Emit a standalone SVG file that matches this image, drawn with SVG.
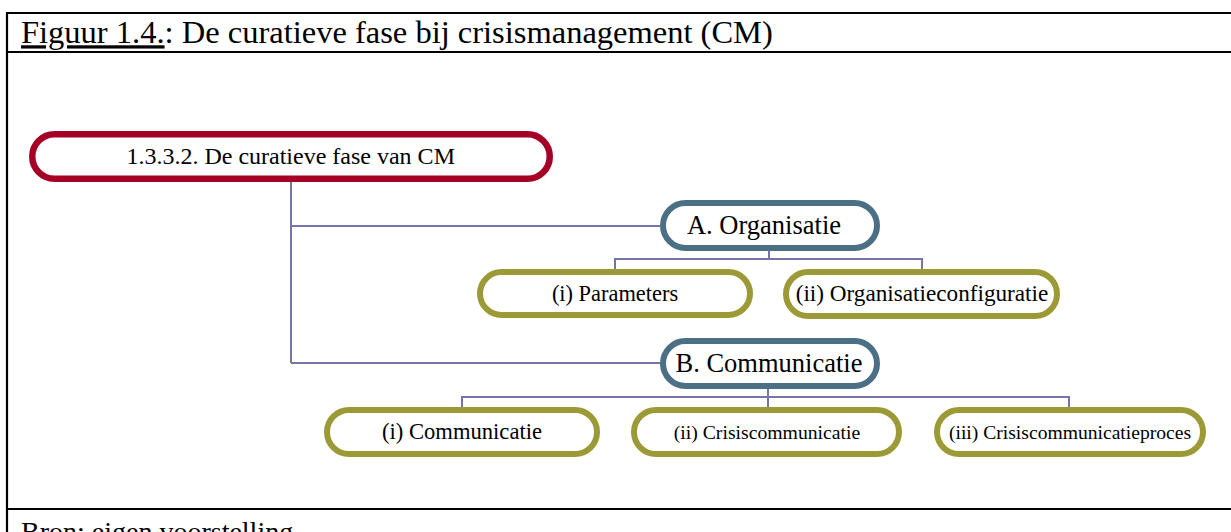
<svg xmlns="http://www.w3.org/2000/svg" width="1231" height="532" viewBox="0 0 1231 532">
  <style>
    text { font-family: "Liberation Serif", "Times New Roman", serif; fill: #000; text-anchor: middle; }
    .frame { stroke: #000; stroke-width: 2.2; fill: none; }
    .root { fill: #fff; stroke: #A50026; stroke-width: 6.5; }
    .lvl1 { fill: #fff; stroke: #4B6F84; stroke-width: 6; }
    .lvl2 { fill: #fff; stroke: #9C9A36; stroke-width: 6; }
    .conn { stroke: #7674A8; stroke-width: 2; fill: none; }
  </style>

  <!-- table frame -->
  <g id="frame">
    <line class="frame" x1="7" y1="13" x2="1231" y2="13"/>
    <line class="frame" x1="7" y1="52" x2="1231" y2="52"/>
    <line class="frame" x1="7" y1="509" x2="1231" y2="509"/>
    <line class="frame" x1="7" y1="12" x2="7" y2="532"/>
    <text x="21" y="43.3" style="text-anchor:start;font-size:32.5px"><tspan text-decoration="underline">Figuur 1.4.</tspan>: De curatieve fase bij crisismanagement (CM)</text>
    <text x="21" y="541" style="text-anchor:start;font-size:28px">Bron: eigen voorstelling</text>
  </g>

  <!-- connectors -->
  <g id="connectors">
    <polyline class="conn" points="291,182 291,363"/>
    <polyline class="conn" points="291,226 660,226"/>
    <polyline class="conn" points="291,363 660,363"/>
    <polyline class="conn" points="769,251 769,259"/>
    <polyline class="conn" points="615,269 615,259 922,259 922,269"/>
    <polyline class="conn" points="768,389 768,407"/>
    <polyline class="conn" points="462,407 462,397 1069,397 1069,407"/>
  </g>

  <g id="node-root">
    <rect class="root" x="32.25" y="134.25" width="517.5" height="44.5" rx="22.25"/>
    <text x="290.7" y="164.3" style="font-size:24px">1.3.3.2. De curatieve fase van CM</text>
  </g>

  <g id="node-a">
    <rect class="lvl1" x="663" y="203" width="214" height="45" rx="22.5"/>
    <text x="764" y="234" style="font-size:26.5px">A. Organisatie</text>
  </g>

  <g id="node-a1">
    <rect class="lvl2" x="480" y="272" width="270" height="43" rx="21.5"/>
    <text x="615" y="300.7" style="font-size:22.4px">(i) Parameters</text>
  </g>

  <g id="node-a2">
    <rect class="lvl2" x="786" y="272" width="271" height="44" rx="22"/>
    <text x="922" y="301" style="font-size:23.2px">(ii) Organisatieconfiguratie</text>
  </g>

  <g id="node-b">
    <rect class="lvl1" x="663" y="341" width="214" height="45" rx="22.5"/>
    <text x="769" y="372" style="font-size:26.5px">B. Communicatie</text>
  </g>

  <g id="node-b1">
    <rect class="lvl2" x="327" y="410" width="270" height="44" rx="22"/>
    <text x="462" y="439" style="font-size:22.6px">(i) Communicatie</text>
  </g>

  <g id="node-b2">
    <rect class="lvl2" x="634" y="410" width="265" height="44" rx="22"/>
    <text x="767" y="438.5" style="font-size:19.7px">(ii) Crisiscommunicatie</text>
  </g>

  <g id="node-b3">
    <rect class="lvl2" x="937" y="410" width="266" height="44" rx="22"/>
    <text x="1070" y="438.5" style="font-size:19.6px">(iii) Crisiscommunicatieproces</text>
  </g>
</svg>
